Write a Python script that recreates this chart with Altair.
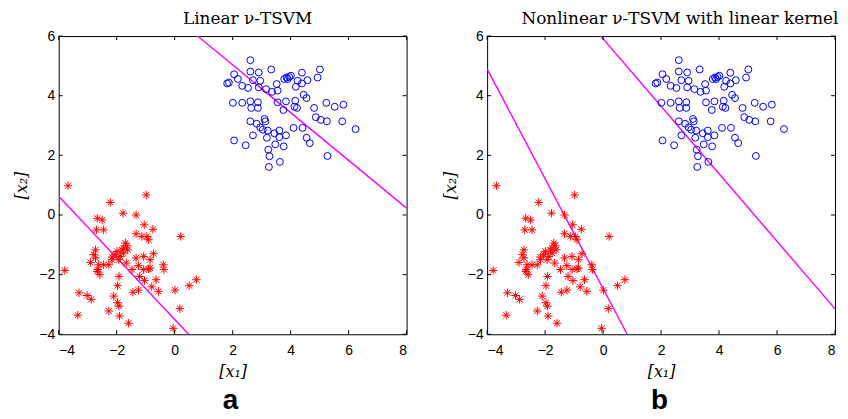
import altair as alt
import pandas as pd

blue_x = [2.61,2.05,2.61,2.90,3.33,1.87,1.81,2.18,2.33,2.53,2.70,2.95,2.90,3.15,3.36,3.55,3.52,3.78,3.86,3.95,4.01,3.90,4.39,4.24,4.18,4.39,4.58,4.93,5.01,4.45,4.55,2.01,2.33,2.61,2.64,2.87,2.87,3.55,3.84,3.75,4.16,4.13,4.22,4.81,5.23,5.52,5.82,4.87,5.04,5.25,5.78,6.24,2.61,2.83,3.10,3.13,2.95,3.04,3.21,3.44,3.61,2.70,3.18,3.61,3.84,4.10,4.41,4.55,4.66,2.05,2.45,3.47,3.76,3.23,3.27,3.25,3.63,5.27]
blue_y = [5.19,4.72,4.81,4.78,4.88,4.44,4.41,4.56,4.33,4.26,4.52,4.50,4.28,4.22,4.13,4.17,4.39,4.56,4.61,4.63,4.67,4.56,4.77,4.50,4.30,4.41,4.52,4.61,4.88,4.03,3.92,3.76,3.76,3.81,3.59,3.78,3.59,3.78,3.81,3.52,3.83,3.63,3.59,3.59,3.76,3.63,3.70,3.28,3.19,3.14,3.14,2.88,3.14,3.06,3.22,3.14,2.94,2.86,2.83,2.74,2.83,2.67,2.59,2.61,2.67,2.92,2.92,2.59,2.41,2.50,2.34,2.37,2.30,2.19,1.97,1.61,1.78,1.98]
red_x = [-3.68,-2.22,-0.98,-1.78,-1.33,-2.67,-2.50,-2.70,-2.45,-1.05,-0.75,-1.33,-1.13,-0.96,-0.90,0.21,-1.70,-1.65,-1.76,-1.82,-1.62,-1.99,-2.05,-1.87,-2.16,-2.73,-2.79,-2.90,-2.62,-2.45,-2.27,-2.65,-2.58,-2.67,-2.16,-1.93,-1.67,-1.33,-1.07,-0.73,-0.85,-1.25,-0.90,-0.85,-0.39,-0.37,-1.47,-1.92,-1.21,-1.04,-0.64,-3.79,-3.30,-3.02,-2.88,-2.10,-1.97,-1.44,-1.25,-0.79,-0.56,0.01,0.50,0.75,-1.97,-1.92,-2.27,-1.90,-3.34,-1.59,0.18,-0.05,-2.73,-1.76,-1.07]
red_y = [0.98,0.42,0.67,0.06,0.00,-0.11,-0.17,-0.50,-0.50,-0.33,-0.48,-0.63,-0.72,-0.72,-0.83,-0.72,-0.94,-1.03,-1.11,-1.17,-1.17,-1.22,-1.33,-1.39,-1.41,-1.17,-1.33,-1.59,-1.67,-1.67,-1.67,-1.83,-2.00,-1.89,-1.50,-1.50,-1.61,-1.44,-1.39,-1.30,-1.50,-1.70,-1.81,-1.78,-1.67,-1.83,-1.83,-2.06,-2.06,-2.20,-2.17,-1.86,-2.61,-2.70,-2.83,-2.72,-2.37,-2.59,-2.52,-2.41,-2.56,-2.52,-2.37,-2.17,-2.94,-3.06,-3.22,-3.39,-3.36,-3.63,-3.14,-3.80,-1.44,-1.28,-1.83]

x_ticks = [-4, -2, 0, 2, 4, 6, 8]
y_ticks = [-4, -2, 0, 2, 4, 6]

lineA1_x = [0.79, 8]
lineA1_y = [6, 0.23]
lineA2_x = [-4, 0.48]
lineA2_y = [0.63, -4]
lineB1_x = [-0.08, 8]
lineB1_y = [6, -3.15]
lineB2_x = [-4, 0.83]
lineB2_y = [4.9, -4]

titles = ["Linear \u03bd-TSVM", "Nonlinear \u03bd-TSVM with linear kernel"]
labels = ["a", "b"]
x_title = "[x\u2081]"
y_title = "[x\u2082]"

W, H = 350, 300
TL = 4
STAR = "M-1,0L1,0M0,-1L0,1M-0.71,-0.71L0.71,0.71M-0.71,0.71L0.71,-0.71"

xs = alt.Scale(domain=[-4, 8], nice=False, zero=False)
ys = alt.Scale(domain=[-4, 6], nice=False, zero=False)


def X(f):
    return alt.X(f, type="quantitative", scale=xs, title=x_title,
                 axis=alt.Axis(values=x_ticks, format="d"))


def Y(f):
    return alt.Y(f, type="quantitative", scale=ys, title=y_title,
                 axis=alt.Axis(values=y_ticks, format="d"))


def panel(lines, title, dx):
    pts_b = pd.DataFrame({"x": blue_x, "y": blue_y})
    pts_r = pd.DataFrame({"x": red_x, "y": red_y})
    rows = []
    for i, (lx, ly) in enumerate(lines):
        for a, b in zip(lx, ly):
            rows.append({"x": a, "y": b, "id": i})
    ldf = pd.DataFrame(rows)
    xt = pd.DataFrame({"t": x_ticks})
    yt = pd.DataFrame({"t": y_ticks})

    blue = alt.Chart(pts_b).mark_point(shape="circle", filled=False, color="#0000ff",
                                       size=48, strokeWidth=1, opacity=1).encode(x=X("x"), y=Y("y"))
    red = alt.Chart(pts_r).mark_point(shape=STAR, filled=False, color="#ff0000",
                                      size=72, strokeWidth=1, opacity=1).encode(x=X("x"), y=Y("y"))
    ln = alt.Chart(ldf).mark_line(color="#ff00ff", strokeWidth=1.4, clip=True).encode(
        x=X("x"), y=Y("y"), detail="id:N")
    tb = alt.Chart(xt).mark_rule(color="black", strokeWidth=1).encode(
        x=X("t"), y=alt.value(H), y2=alt.value(H - TL))
    tt = alt.Chart(xt).mark_rule(color="black", strokeWidth=1).encode(
        x=X("t"), y=alt.value(0), y2=alt.value(TL))
    tlf = alt.Chart(yt).mark_rule(color="black", strokeWidth=1).encode(
        y=Y("t"), x=alt.value(0), x2=alt.value(TL))
    trt = alt.Chart(yt).mark_rule(color="black", strokeWidth=1).encode(
        y=Y("t"), x=alt.value(W), x2=alt.value(W - TL))
    return alt.layer(ln, blue, red, tb, tt, tlf, trt).properties(
        width=W, height=H,
        title=alt.TitleParams(title, font="DejaVu Serif", fontSize=17, fontWeight="normal",
                              color="black", anchor="middle", frame="group", dx=dx, dy=-2, offset=-1))


pa = panel([(lineA1_x, lineA1_y), (lineA2_x, lineA2_y)], titles[0], 15)
pb = panel([(lineB1_x, lineB1_y), (lineB2_x, lineB2_y)], titles[1], 19)

wa = alt.vconcat(pa).properties(title=alt.TitleParams(labels[0], orient="bottom", font="Liberation Sans",
                                                      fontSize=28, fontWeight="bold", color="black",
                                                      anchor="middle", dx=20, offset=8))
wb = alt.vconcat(pb).properties(title=alt.TitleParams(labels[1], orient="bottom", font="Liberation Sans",
                                                      fontSize=28, fontWeight="bold", color="black",
                                                      anchor="middle", dx=19, offset=8))

chart = alt.hconcat(wa, wb, spacing=34).properties(
    padding={"left": 5, "top": 0, "right": 0, "bottom": 0}
).configure_view(stroke="black", strokeWidth=1).configure_axis(
    domain=False, ticks=False, tickSize=0, grid=False,
    labelFont="Liberation Sans", labelFontSize=14, labelColor="black",
    titleFont="DejaVu Serif", titleFontSize=16, titleFontStyle="italic",
    titleFontWeight="normal", titleColor="black"
).configure_axisX(labelPadding=9, titlePadding=6).configure_axisY(labelPadding=4, titlePadding=9)

chart.save("out.html", embed_options={"renderer": "svg", "actions": False})
